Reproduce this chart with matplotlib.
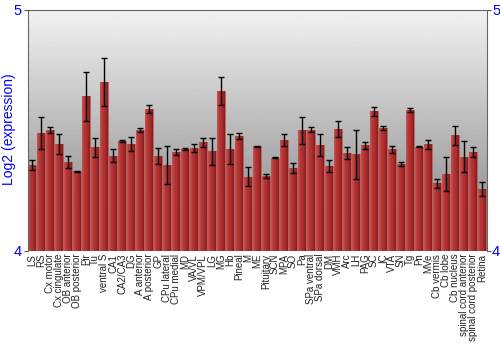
import numpy as np
import matplotlib
matplotlib.use("Agg")
import matplotlib.pyplot as plt
from matplotlib.colors import LinearSegmentedColormap

plt.rcParams['font.family'] = ['Liberation Sans', 'DejaVu Sans']

# brain regions and expression values (log2)
regions = ["LS", "RS", "Cx motor", "Cx cingulate", "OB anterior", "OB posterior",
           "Pir", "Tu", "ventral S", "CA1", "CA2/CA3", "DG", "A anterior",
           "A posterior", "GP", "CPu lateral", "CPu medial", "MD", "VA/VL",
           "VPM/VPL", "LG", "MG", "Hb", "Pineal", "M", "ME", "Pituitary", "SCN",
           "MPA", "SO", "Pa", "SPa ventral", "SPa dorsal", "DM", "VMH", "Arc",
           "LH", "PAG", "SC", "IC", "VTA", "SN", "Tg", "Pn", "MVe", "Cb vermis",
           "Cb lobe", "Cb nucleus", "spinal cord anterior", "spinal cord posterior",
           "Retina"]
values = [4.355, 4.490, 4.501, 4.443, 4.370, 4.331, 4.641, 4.430, 4.700, 4.395,
          4.457, 4.443, 4.501, 4.590, 4.395, 4.356, 4.409, 4.423, 4.427, 4.450,
          4.414, 4.664, 4.424, 4.478, 4.308, 4.435, 4.312, 4.387, 4.460, 4.344,
          4.500, 4.503, 4.439, 4.352, 4.504, 4.407, 4.401, 4.438, 4.579, 4.510,
          4.421, 4.362, 4.586, 4.432, 4.443, 4.280, 4.319, 4.479, 4.390, 4.412,
          4.256]
errors = [0.021, 0.067, 0.012, 0.041, 0.025, 0.002, 0.103, 0.040, 0.100, 0.028,
          0.004, 0.030, 0.009, 0.017, 0.033, 0.080, 0.013, 0.005, 0.015, 0.018,
          0.056, 0.057, 0.062, 0.012, 0.040, 0.002, 0.009, 0.003, 0.026, 0.019,
          0.055, 0.009, 0.044, 0.026, 0.033, 0.025, 0.102, 0.014, 0.020, 0.010,
          0.014, 0.008, 0.008, 0.003, 0.019, 0.020, 0.070, 0.041, 0.064, 0.021,
          0.028]

ymin, ymax = 4, 5
x = np.arange(len(regions))

fig = plt.figure(figsize=(5, 3.5), dpi=100)
ax = fig.add_axes([0.055, 0.283, 0.918, 0.689])
ax.set_xlim(-0.5, len(regions) - 0.5)
ax.set_ylim(ymin, ymax)

# background: grey vertical gradient
bg = np.linspace(0.50, 0.95, 256).reshape(-1, 1)
ax.imshow(bg, cmap='gray', vmin=0, vmax=1, aspect='auto', origin='lower',
          extent=[-0.5, len(regions) - 0.5, ymin, ymax], zorder=0)

# bars with horizontal red gradient
bar_cmap = LinearSegmentedColormap.from_list(
    "bar", ["#c85050", "#b43636", "#a82c2c", "#8a1c1c"])
grad = np.linspace(0, 1, 32).reshape(1, -1)
bars = ax.bar(x, np.array(values) - ymin, bottom=ymin, width=0.86,
              color='#b03434', edgecolor='#b06868', linewidth=0.6, zorder=2)
for b in bars:
    im = ax.imshow(grad, cmap=bar_cmap, aspect='auto',
                   extent=[b.get_x(), b.get_x() + b.get_width(),
                           ymin, ymin + b.get_height()], zorder=2.5)
    im.set_clip_path(b)

ax.errorbar(x, values, yerr=errors, fmt='none', ecolor='black',
            elinewidth=1, capsize=2, capthick=1, zorder=3)

ax.set_yticks([4, 5])
ax.set_yticklabels(["4", "5"])
ax.tick_params(axis='y', colors='#555555', labelcolor='blue', labelsize=10.5,
               length=3, right=True, labelright=True, pad=1)
ax.set_xticks(x)
ax.set_xticklabels(regions, rotation=90, fontsize=7, color='#222222')
ax.tick_params(axis='x', length=0, pad=2)

# y label placed in figure coords, near the left edge
fig.text(0.019, 0.63, "Log2 (expression)", color='blue', fontsize=10,
         rotation=90, ha='center', va='center')

for side in ['left', 'right', 'top']:
    ax.spines[side].set_color('#666666')
ax.spines['bottom'].set_visible(False)

fig.savefig("out.png", dpi=100)
